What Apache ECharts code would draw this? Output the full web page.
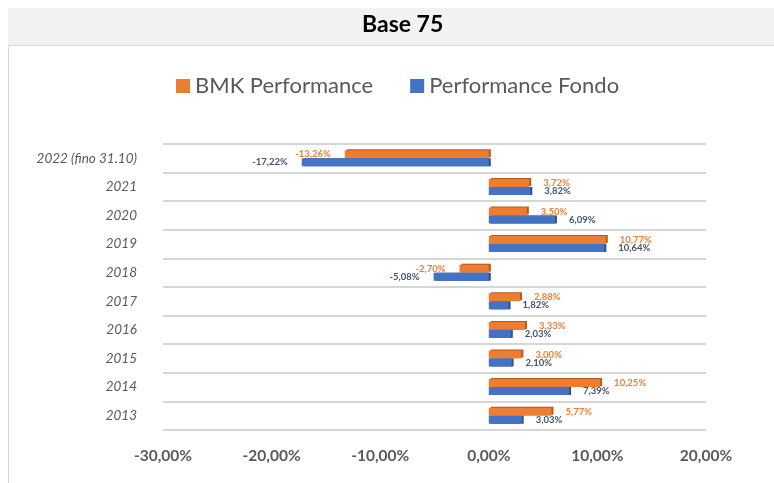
<!DOCTYPE html>
<html>
<head>
<meta charset="utf-8">
<script src="https://cdn.jsdelivr.net/npm/echarts@6/dist/echarts.min.js"></script>
<style>
  html, body { margin: 0; padding: 0; background: #fff; }
  #main { width: 774px; height: 483px; }
</style>
</head>
<body>
<div id="main"></div>
<script>
var years = ['2013', '2014', '2015', '2016', '2017', '2018', '2019', '2020', '2021', '2022 (fino 31.10)'];
var bmkValues = [5.77, 10.25, 3.00, 3.33, 2.88, -2.70, 10.77, 3.50, 3.72, -13.26];
var fondoValues = [3.03, 7.39, 2.10, 2.03, 1.82, -5.08, 10.64, 6.09, 3.82, -17.22];
var xTicks = { min: -30, max: 20, interval: 10 };

var chartDom = document.getElementById('main');
var myChart = echarts.init(chartDom);
var option;

function pct(v) {
    return v.toFixed(2).replace('.', ',') + '%';
}

// label goes outside the bar end, left for negatives
function withLabel(values) {
    return values.map(function (v) {
        return { value: v, label: { position: v < 0 ? 'left' : 'right' } };
    });
}

option = {
    animation: false,
    textStyle: { fontFamily: 'Lato' },
    graphic: {
        elements: [
            {
                type: 'rect',
                shape: { x: 8, y: 8, width: 766, height: 37 },
                style: { fill: '#f2f2f2' },
                z: -1
            },
            {
                type: 'line',
                shape: { x1: 8, y1: 45.5, x2: 774, y2: 45.5 },
                style: { stroke: '#d9d9d9', lineWidth: 1 }
            },
            {
                type: 'line',
                shape: { x1: 8.5, y1: 45, x2: 8.5, y2: 483 },
                style: { stroke: '#d9d9d9', lineWidth: 1 }
            },
            {
                type: 'text',
                left: 362,
                top: 13,
                style: { text: 'Base 75', font: 'bold 23px Lato', fill: '#000' }
            }
        ]
    },
    legend: {
        top: 70,
        left: 171,
        itemWidth: 14,
        itemHeight: 14,
        itemGap: 37,
        icon: 'rect',
        data: ['BMK Performance', 'Performance Fondo'],
        textStyle: { fontSize: 22, color: '#595959', fontFamily: 'Lato' }
    },
    grid: {
        left: 163,
        right: 68,
        top: 144,
        bottom: 53
    },
    xAxis: {
        type: 'value',
        min: xTicks.min,
        max: xTicks.max,
        interval: xTicks.interval,
        axisLine: { show: false },
        axisTick: { show: false },
        splitLine: { show: false },
        axisLabel: {
            margin: 18,
            fontSize: 15.5,
            fontWeight: 'bold',
            color: '#595959',
            formatter: function (v) { return pct(v); }
        }
    },
    yAxis: {
        type: 'category',
        data: years,
        axisLine: { show: false },
        axisTick: { show: false },
        splitLine: {
            show: true,
            lineStyle: { color: '#d6d6d6', width: 2 }
        },
        axisLabel: {
            margin: 26,
            fontSize: 13.5,
            fontStyle: 'italic',
            color: '#595959',
            padding: [10, 0, 0, 0]
        }
    },
    series: [
        {
            name: 'BMK Performance',
            type: 'bar',
            barWidth: 8,
            barGap: '0%',
            data: withLabel(bmkValues),
            itemStyle: {
                color: '#ED7D31',
                shadowColor: '#b85a1c',
                shadowOffsetX: 2,
                shadowOffsetY: -1,
                shadowBlur: 0
            },
            label: {
                show: true,
                distance: 14,
                fontSize: 9.5,
                fontWeight: 'bold',
                color: '#ED7D31',
                formatter: function (p) { return pct(p.value); }
            }
        },
        {
            name: 'Performance Fondo',
            type: 'bar',
            barWidth: 8,
            barGap: '0%',
            data: withLabel(fondoValues),
            itemStyle: {
                color: '#4472C4',
                shadowColor: '#2f528f',
                shadowOffsetX: 2,
                shadowOffsetY: 0,
                shadowBlur: 0
            },
            label: {
                show: true,
                distance: 14,
                fontSize: 9.5,
                fontWeight: 'bold',
                color: '#44546A',
                formatter: function (p) { return pct(p.value); }
            }
        }
    ]
};

option && myChart.setOption(option);
</script>
</body>
</html>
